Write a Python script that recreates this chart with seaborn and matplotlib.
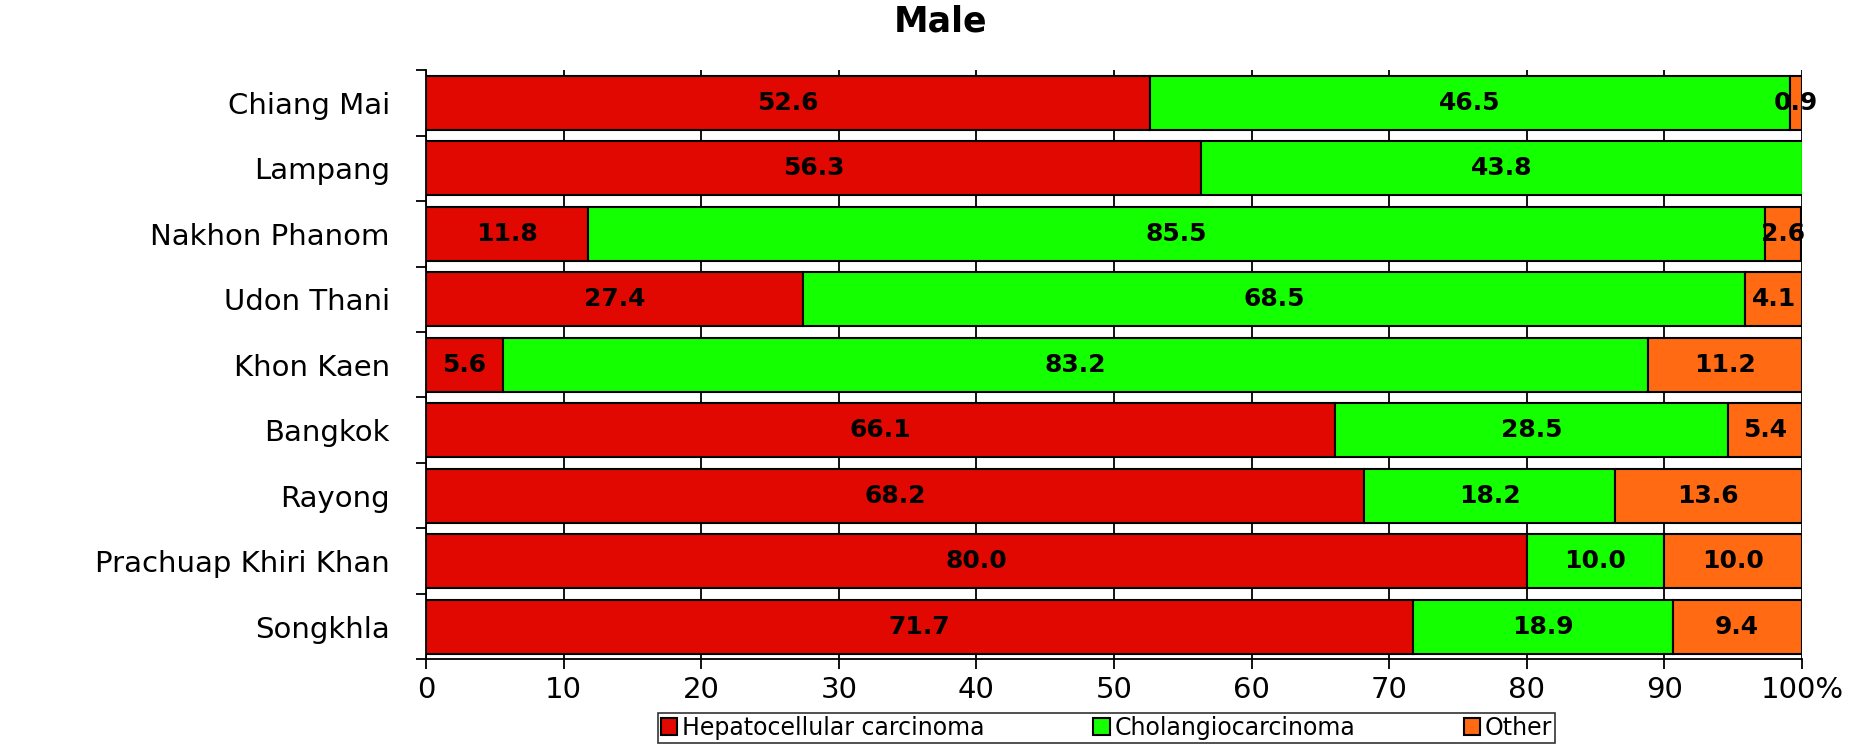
import numpy as np
import pandas as pd
import matplotlib.pyplot as plt
import seaborn as sns
from matplotlib.ticker import FixedLocator

regions = ['Chiang Mai', 'Lampang', 'Nakhon Phanom', 'Udon Thani', 'Khon Kaen',
           'Bangkok', 'Rayong', 'Prachuap Khiri Khan', 'Songkhla']
hcc = [52.6, 56.3, 11.8, 27.4, 5.6, 66.1, 68.2, 80.0, 71.7]
cca = [46.5, 43.8, 85.5, 68.5, 83.2, 28.5, 18.2, 10.0, 18.9]
other = [0.9, 0.0, 2.6, 4.1, 11.2, 5.4, 13.6, 10.0, 9.4]

series_cols = ['hcc', 'cca', 'other']
series_names = ['Hepatocellular carcinoma', 'Cholangiocarcinoma', 'Other']
colors = ['#e00800', '#14ff00', '#ff6a12']
x_ticks = [0, 10, 20, 30, 40, 50, 60, 70, 80, 90, 100]
x_tick_labels = ['0', '10', '20', '30', '40', '50', '60', '70', '80', '90', '100%']

df = pd.DataFrame({'region': regions, 'hcc': hcc, 'cca': cca, 'other': other})

sns.set_style('white')
plt.rcParams['font.family'] = ['DejaVu Sans']
plt.rcParams['text.color'] = 'black'
plt.rcParams['xtick.color'] = 'black'
plt.rcParams['ytick.color'] = 'black'
plt.rcParams['axes.labelcolor'] = 'black'

fig = plt.figure(figsize=(18.63, 7.44), dpi=100)
ax = fig.add_axes([0.2287, 0.1136, 0.7385, 0.7923])

# stacked bars: each series starts where the previous ones end
left = np.zeros(len(df))
for col, name, color in zip(series_cols, series_names, colors):
    sns.barplot(data=df, x=col, y='region', color=color, saturation=1, left=left.copy(),
                width=0.82, edgecolor='black', linewidth=1.5, errorbar=None,
                label=name, ax=ax, zorder=2)
    vals = df[col].values
    ax.bar_label(ax.containers[-1], labels=[f'{v:.1f}' if v > 0 else '' for v in vals],
                 label_type='center', fontsize=18, fontweight='bold', color='black')
    left = left + vals

if ax.get_legend() is not None:
    ax.get_legend().remove()

ax.set_xlim(0, 100)
ax.set_ylim(8.5, -0.5)
ax.set_xticks(x_ticks)
ax.set_xticklabels(x_tick_labels)
ax.set_xlabel('')
ax.set_ylabel('')
ax.grid(axis='x', color='black', linewidth=1.3)
ax.grid(axis='y', visible=False)
ax.set_axisbelow(True)

ax.tick_params(axis='x', which='major', length=7, width=1.3, color='black',
               labelsize=21, pad=5, bottom=True)
ax.tick_params(axis='y', which='major', length=0, labelsize=21, pad=26)
ax.yaxis.set_minor_locator(FixedLocator(np.arange(-0.5, 9, 1)))
ax.tick_params(axis='y', which='minor', length=7, width=1.3, color='black', left=True)

for side in ['top', 'right']:
    ax.spines[side].set_visible(False)
for side in ['left', 'bottom']:
    ax.spines[side].set_color('black')
    ax.spines[side].set_linewidth(1.3)

fig.text(0.505, 1 - 22 / 744, 'Male', ha='center', va='center', fontsize=25, fontweight='bold')

handles, labels = ax.get_legend_handles_labels()
leg = fig.legend(handles, labels, loc='lower center', bbox_to_anchor=(0.594, 0.0),
                 ncol=3, frameon=True, fancybox=False, edgecolor='black', fontsize=17,
                 handlelength=0.7, handleheight=0.7, handletextpad=0.2,
                 columnspacing=4.6, borderpad=0.12, borderaxespad=0.05)
leg.get_frame().set_linewidth(1.2)

fig.savefig('out.png', dpi=100)
